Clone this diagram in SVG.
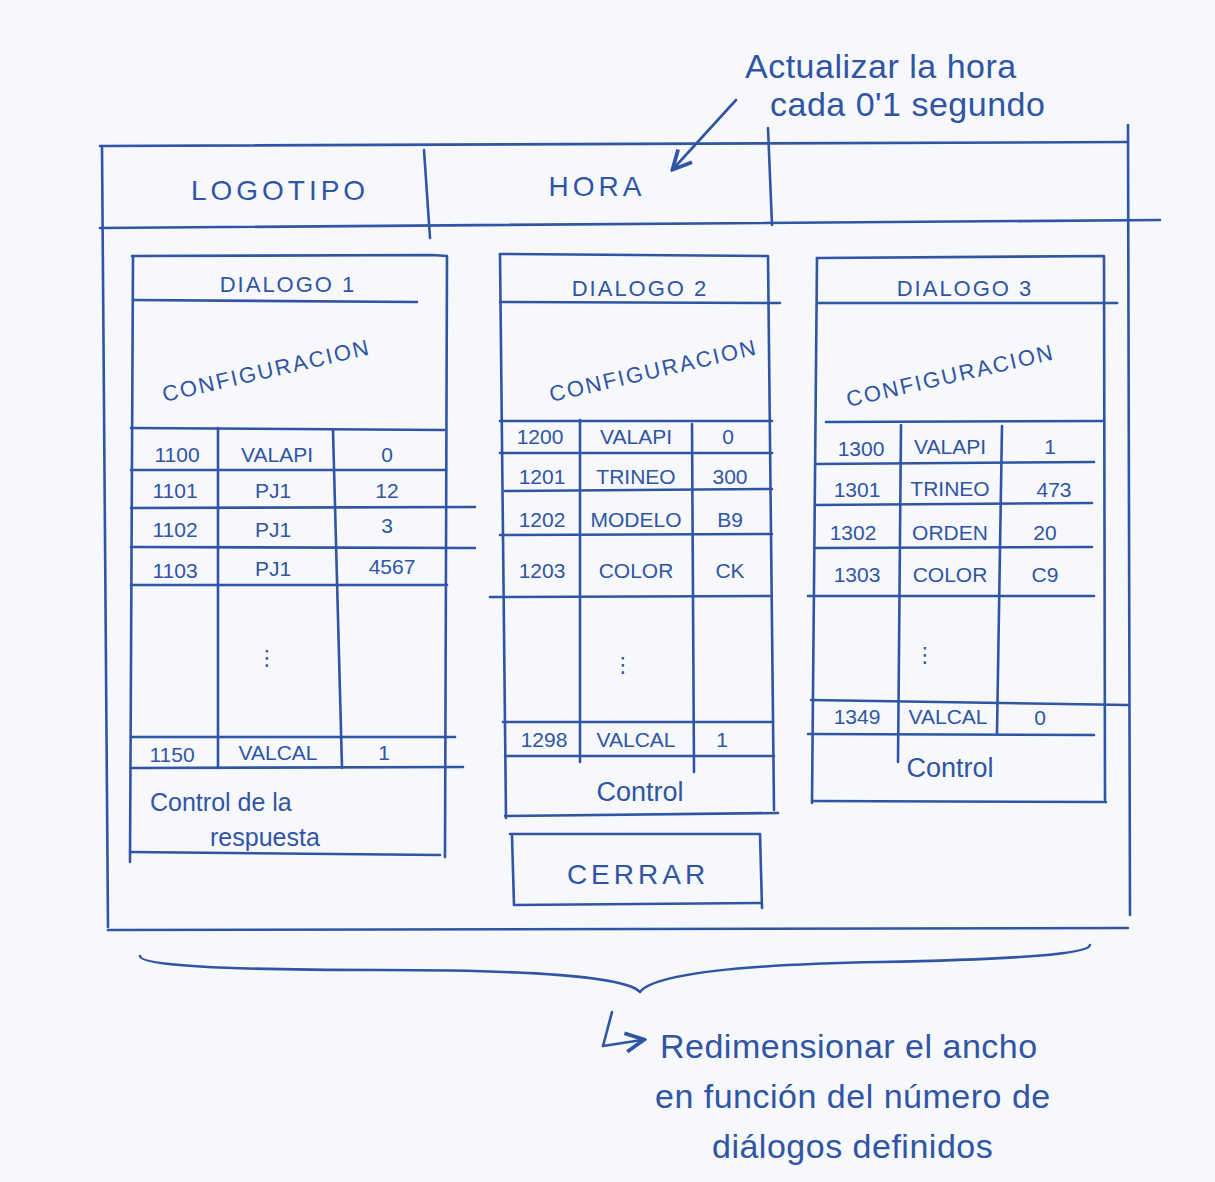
<svg xmlns="http://www.w3.org/2000/svg" width="1215" height="1182" viewBox="0 0 1215 1182">
  <defs>
    <style>
      .ink { fill: none; stroke: #2f55a4; stroke-width: 2.6; stroke-linecap: round; stroke-linejoin: round; }
      .t { font-family: "Liberation Sans", "DejaVu Sans", sans-serif; fill: #2f55a4; }
      .cap { font-size: 22px; letter-spacing: 2px; }
      .cell { font-size: 21px; text-anchor: middle; }
      .big { font-size: 28px; letter-spacing: 4px; text-anchor: middle; }
      .note { font-size: 34px; letter-spacing: 0.5px; }
    </style>
    <marker id="head" viewBox="0 0 10 10" refX="8" refY="5" markerWidth="9" markerHeight="9" orient="auto">
      <path d="M1,1 L9,5 L1,9" fill="none" stroke="#2f55a4" stroke-width="1.6"/>
    </marker>
  </defs>

  <rect width="1215" height="1182" fill="#f7f8fc"/>

  <!-- Window frame and header bar -->
  <g id="window">
    <path class="ink" d="M100,146 L1128,142"/>
    <path class="ink" d="M1128,125 L1130,915"/>
    <path class="ink" d="M102,146 L108,927"/>
    <path class="ink" d="M108,930 L1128,928"/>
    <path class="ink" d="M100,228 L1160,220"/>
    <path class="ink" d="M424,150 L430,238"/>
    <path class="ink" d="M768,128 L772,225"/>
    <text class="t big" x="280" y="200">LOGOTIPO</text>
    <text class="t big" x="597" y="196">HORA</text>
  </g>

  <!-- Dialog 1 -->
  <g id="dialogo1">
    <path class="ink" d="M132,256 L432,255 L447,256 L445,857"/>
    <path class="ink" d="M133,256 L130,862"/>
    <path class="ink" d="M130,852 L440,855"/>
    <path class="ink" d="M133,300 L417,302"/>
    <path class="ink" d="M131,428 L444,430"/>
    <path class="ink" d="M131,470 L446,470"/>
    <path class="ink" d="M131,508 L475,507"/>
    <path class="ink" d="M131,547 L475,548"/>
    <path class="ink" d="M131,585 L447,585"/>
    <path class="ink" d="M131,737 L455,737"/>
    <path class="ink" d="M131,768 L463,767"/>
    <path class="ink" d="M218,428 L218,768"/>
    <path class="ink" d="M333,430 L342,768"/>
    <text class="t cap" x="288" y="292" text-anchor="middle">DIALOGO  1</text>
    <text class="t cap" x="268" y="378" text-anchor="middle" transform="rotate(-13 268 378)">CONFIGURACION</text>
    <text class="t cell" x="177" y="462">1100</text>
    <text class="t cell" x="277" y="462">VALAPI</text>
    <text class="t cell" x="387" y="462">0</text>
    <text class="t cell" x="175" y="498">1101</text>
    <text class="t cell" x="273" y="498">PJ1</text>
    <text class="t cell" x="387" y="498">12</text>
    <text class="t cell" x="175" y="537">1102</text>
    <text class="t cell" x="273" y="537">PJ1</text>
    <text class="t cell" x="387" y="533">3</text>
    <text class="t cell" x="175" y="578">1103</text>
    <text class="t cell" x="273" y="576">PJ1</text>
    <text class="t cell" x="392" y="574">4567</text>
    <text class="t cell" x="267" y="665">⋮</text>
    <text class="t cell" x="172" y="762">1150</text>
    <text class="t cell" x="278" y="760">VALCAL</text>
    <text class="t cell" x="384" y="760">1</text>
    <text class="t" x="150" y="811" font-size="25">Control de la</text>
    <text class="t" x="210" y="846" font-size="25">respuesta</text>
  </g>

  <!-- Dialog 2 -->
  <g id="dialogo2">
    <path class="ink" d="M500,254 L768,256 L774,810"/>
    <path class="ink" d="M500,254 L506,818"/>
    <path class="ink" d="M505,816 L778,813"/>
    <path class="ink" d="M500,302 L780,303"/>
    <path class="ink" d="M500,421 L772,421"/>
    <path class="ink" d="M500,453 L772,453"/>
    <path class="ink" d="M505,491 L772,489"/>
    <path class="ink" d="M500,535 L772,534"/>
    <path class="ink" d="M490,597 L770,596"/>
    <path class="ink" d="M503,722 L773,722"/>
    <path class="ink" d="M505,756 L774,756"/>
    <path class="ink" d="M580,420 L580,762"/>
    <path class="ink" d="M692,424 L694,772"/>
    <text class="t cap" x="640" y="296" text-anchor="middle">DIALOGO 2</text>
    <text class="t cap" x="655" y="378" text-anchor="middle" transform="rotate(-13 655 378)">CONFIGURACION</text>
    <text class="t cell" x="540" y="444">1200</text>
    <text class="t cell" x="636" y="444">VALAPI</text>
    <text class="t cell" x="728" y="444">0</text>
    <text class="t cell" x="542" y="484">1201</text>
    <text class="t cell" x="636" y="484">TRINEO</text>
    <text class="t cell" x="730" y="484">300</text>
    <text class="t cell" x="542" y="527">1202</text>
    <text class="t cell" x="636" y="527">MODELO</text>
    <text class="t cell" x="730" y="527">B9</text>
    <text class="t cell" x="542" y="578">1203</text>
    <text class="t cell" x="636" y="578">COLOR</text>
    <text class="t cell" x="730" y="578">CK</text>
    <text class="t cell" x="623" y="672">⋮</text>
    <text class="t cell" x="544" y="747">1298</text>
    <text class="t cell" x="636" y="747">VALCAL</text>
    <text class="t cell" x="722" y="747">1</text>
    <text class="t" x="640" y="801" font-size="27" text-anchor="middle">Control</text>
  </g>

  <!-- Dialog 3 -->
  <g id="dialogo3">
    <path class="ink" d="M817,258 L1104,256 L1105,800"/>
    <path class="ink" d="M817,258 L812,803"/>
    <path class="ink" d="M812,801 L1106,802"/>
    <path class="ink" d="M818,303 L1117,303"/>
    <path class="ink" d="M826,422 L1104,421"/>
    <path class="ink" d="M816,464 L1094,462"/>
    <path class="ink" d="M816,505 L1092,503"/>
    <path class="ink" d="M816,548 L1092,547"/>
    <path class="ink" d="M808,596 L1094,596"/>
    <path class="ink" d="M811,700 L1128,705"/>
    <path class="ink" d="M808,734 L1094,735"/>
    <path class="ink" d="M901,425 L898,762"/>
    <path class="ink" d="M1002,426 L997,733"/>
    <text class="t cap" x="965" y="296" text-anchor="middle">DIALOGO 3</text>
    <text class="t cap" x="952" y="383" text-anchor="middle" transform="rotate(-13 952 383)">CONFIGURACION</text>
    <text class="t cell" x="861" y="456">1300</text>
    <text class="t cell" x="950" y="454">VALAPI</text>
    <text class="t cell" x="1050" y="454">1</text>
    <text class="t cell" x="857" y="497">1301</text>
    <text class="t cell" x="950" y="496">TRINEO</text>
    <text class="t cell" x="1054" y="497">473</text>
    <text class="t cell" x="853" y="540">1302</text>
    <text class="t cell" x="950" y="540">ORDEN</text>
    <text class="t cell" x="1045" y="540">20</text>
    <text class="t cell" x="857" y="582">1303</text>
    <text class="t cell" x="950" y="582">COLOR</text>
    <text class="t cell" x="1045" y="582">C9</text>
    <text class="t cell" x="925" y="662">⋮</text>
    <text class="t cell" x="857" y="724">1349</text>
    <text class="t cell" x="948" y="724">VALCAL</text>
    <text class="t cell" x="1040" y="725">0</text>
    <text class="t" x="950" y="777" font-size="27" text-anchor="middle">Control</text>
  </g>

  <!-- Close button -->
  <g id="cerrar">
    <path class="ink" d="M510,834 L760,834 L762,908"/>
    <path class="ink" d="M512,836 L514,905 L760,903"/>
    <text class="t big" x="638" y="884">CERRAR</text>
  </g>

  <!-- Notes -->
  <g id="nota-hora">
    <text class="t note" x="745" y="78">Actualizar la hora</text>
    <text class="t note" x="770" y="116">cada 0'1 segundo</text>
  </g>
  <g id="nota-ancho">
    <text class="t note" x="660" y="1058">Redimensionar el ancho</text>
    <text class="t note" x="655" y="1108">en función del número de</text>
    <text class="t note" x="712" y="1158">diálogos definidos</text>
  </g>

  <!-- Connectors -->
  <g id="connectors">
    <path class="ink" d="M736,100 L674,168" marker-end="url(#head)"/>
    <path class="ink" d="M140,956 Q140,970 380,970 Q620,970 640,992 Q660,966 880,962 Q1090,958 1090,945"/>
    <path class="ink" d="M612,1012 L603,1046 L642,1040" marker-end="url(#head)"/>
  </g>
</svg>
